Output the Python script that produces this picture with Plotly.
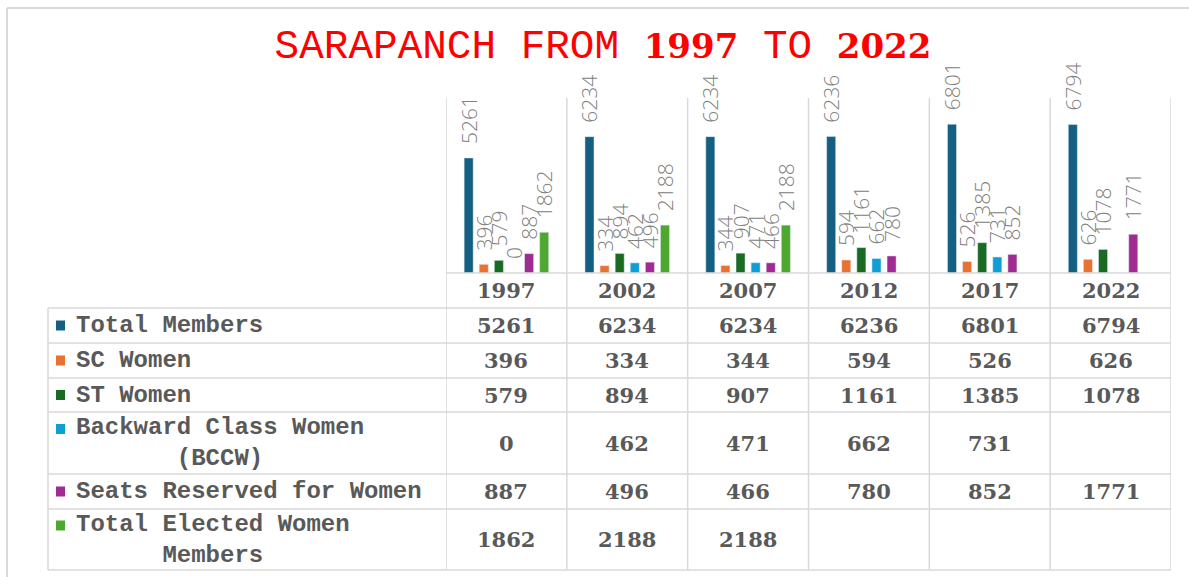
import plotly.graph_objects as go

years = ["1997", "2002", "2007", "2012", "2017", "2022"]
series_names = ["Total Members", "SC Women", "ST Women", "Backward Class Women<br>(BCCW)",
                "Seats Reserved for Women", "Total Elected Women<br>Members"]
total_members = [5261, 6234, 6234, 6236, 6801, 6794]
sc_women = [396, 334, 344, 594, 526, 626]
st_women = [579, 894, 907, 1161, 1385, 1078]
bccw = [0, 462, 471, 662, 731, None]
seats_reserved = [887, 496, 466, 780, 852, 1771]
total_elected = [1862, 2188, 2188, None, None, None]
series_values = [total_members, sc_women, st_women, bccw, seats_reserved, total_elected]
colors = ["#156082", "#E97132", "#196B24", "#0F9ED5", "#A02B93", "#4EA72E"]

W, H = 1189, 577
def px(x):
    return x / W
def py(y):
    return 1 - y / H

GRID = "#d9d9d9"
TXT = "#595959"

fig = go.Figure()
for name, vals, col in zip(series_names, series_values, colors):
    fig.add_trace(go.Bar(
        x=years, y=vals, name=name.replace("<br>", " "), marker_color=col,
        text=["" if v is None else "\u00a0\u00a0" + str(v) for v in vals],
        textposition="outside", textangle=-90, cliponaxis=False, constraintext="none",
        textfont=dict(family="Open Sans", size=21, color="#808080", weight=300),
        showlegend=False,
    ))

plot_left, plot_right, plot_top, base = 446, 1171, 98, 273
row_edges = [273, 308, 343, 378, 412, 474, 509, 570]

shapes = []
# outer frame (top & left)
shapes.append(dict(type="line", xref="paper", yref="paper", x0=px(7), x1=px(1189), y0=py(8), y1=py(8),
                   line=dict(color=GRID, width=2)))
shapes.append(dict(type="line", xref="paper", yref="paper", x0=px(7), x1=px(7), y0=py(8), y1=py(577),
                   line=dict(color=GRID, width=2)))
# vertical category dividers
for i in range(len(years) + 1):
    shapes.append(dict(type="line", xref="x", yref="paper", x0=i - 0.5, x1=i - 0.5,
                       y0=py(row_edges[-1]), y1=py(plot_top), line=dict(color=GRID, width=1.5)))
# table left border
shapes.append(dict(type="line", xref="paper", yref="paper", x0=px(48), x1=px(48),
                   y0=py(row_edges[1]), y1=py(row_edges[-1]), line=dict(color=GRID, width=1.5)))
# horizontal table lines
for k, ye in enumerate(row_edges):
    x0 = plot_left if k == 0 else 48
    shapes.append(dict(type="line", xref="paper", yref="paper", x0=px(x0), x1=px(plot_right),
                       y0=py(ye), y1=py(ye), line=dict(color=GRID, width=1.5)))

annotations = []
num_font = dict(family="DejaVu Serif", size=21, color=TXT)
# header years
for i, yr in enumerate(years):
    annotations.append(dict(x=i, xref="x", y=py((row_edges[0] + row_edges[1]) / 2), yref="paper",
                            text="<b>%s</b>" % yr, showarrow=False, font=num_font,
                            xanchor="center", yanchor="middle"))
# rows
for r, (name, vals, col) in enumerate(zip(series_names, series_values, colors)):
    top, bot = row_edges[r + 1], row_edges[r + 2]
    yc = (top + bot) / 2
    for i, v in enumerate(vals):
        if v is None:
            continue
        annotations.append(dict(x=i, xref="x", y=py(yc), yref="paper", text="<b>%d</b>" % v,
                                showarrow=False, font=num_font, xanchor="center", yanchor="middle"))
    annotations.append(dict(x=px(74), xref="paper", y=py(yc), yref="paper", text="<b>%s</b>" % name,
                            showarrow=False, align="center", xanchor="left", yanchor="middle",
                            font=dict(family="Liberation Mono", size=24, color=TXT)))
    two = "<br>" in name
    sq_c = yc - 14 if two else yc
    shapes.append(dict(type="rect", xref="paper", yref="paper", x0=px(56), x1=px(65),
                       y0=py(sq_c + 5), y1=py(sq_c - 5), fillcolor=col, line=dict(width=0)))

title_text = ("SARAPANCH FROM <span style=\"font-family:DejaVu Serif;font-size:34px;font-weight:bold\">1997</span>"
              " TO <span style=\"font-family:DejaVu Serif;font-size:34px;font-weight:bold\">2022</span>")

fig.update_layout(
    width=W, height=H, margin=dict(l=0, r=0, t=0, b=0),
    paper_bgcolor="white", plot_bgcolor="white",
    barmode="group", bargap=0.25, bargroupgap=0.4,
    title=dict(text=title_text, x=px(603), xanchor="center", y=py(44), yanchor="middle",
               font=dict(family="Liberation Mono", size=41, color="#FF0000")),
    xaxis=dict(type="category", domain=[px(plot_left), px(plot_right)], range=[-0.5, 5.5],
               showticklabels=False, showgrid=False, zeroline=False, showline=False, ticks=""),
    yaxis=dict(domain=[py(base), py(plot_top)], range=[0, 8000], visible=False),
    shapes=shapes, annotations=annotations,
)

fig.write_html("out.html", config={"displayModeBar": False},
               post_script="document.body.style.margin='0';document.body.style.overflow='hidden';")
